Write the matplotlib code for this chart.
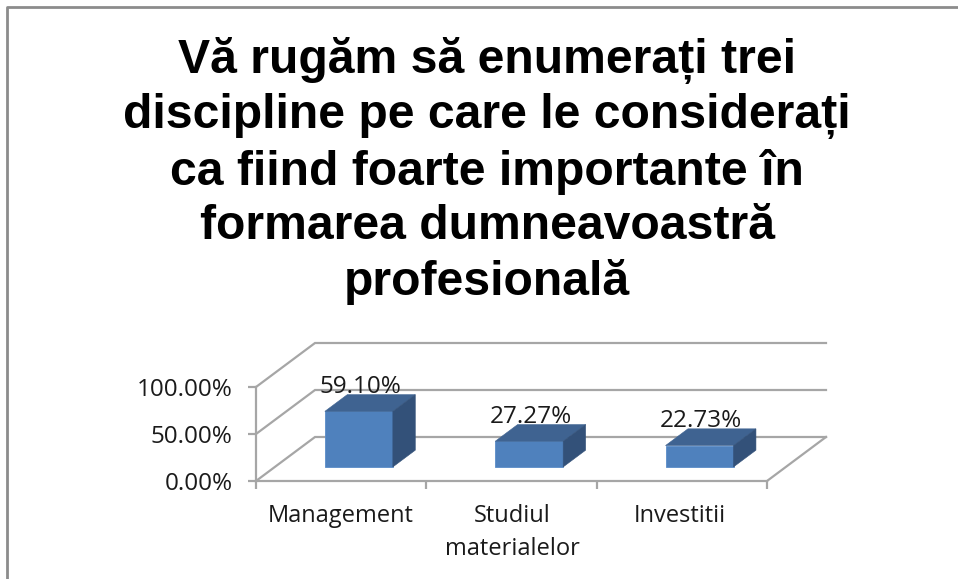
import matplotlib
matplotlib.use("Agg")
import matplotlib.pyplot as plt
from matplotlib.lines import Line2D
from matplotlib.patches import Polygon

categories = ["Management", "Studiul\nmaterialelor", "Investitii"]
values = [59.10, 27.27, 22.73]
value_labels = ["59.10%", "27.27%", "22.73%"]
y_ticks = [0, 50, 100]
y_tick_labels = ["0.00%", "50.00%", "100.00%"]
title = ("Vă rugăm să enumerați trei\ndiscipline pe care le considerați\n"
         "ca fiind foarte importante în\nformarea dumneavoastră\nprofesională")

W, H = 958, 579
fig = plt.figure(figsize=(W / 100, H / 100), dpi=100, facecolor="white")
L, R, B, T = 256, 767, 481, 387
ax = fig.add_axes([L / W, 1 - B / H, (R - L) / W, (B - T) / H])
ax.set_xlim(0, 3)
ax.set_ylim(0, 100)
ax.patch.set_visible(False)

GRID = "#a6a6a6"
DX = 59 / ((R - L) / 3)      # full depth in category units
DY = 44 / ((B - T) / 100)    # full depth in value units


def proj(x, y, d):
    return (x + d * DX, y + d * DY)


for s in ["top", "right"]:
    ax.spines[s].set_visible(False)
for s in ["left", "bottom"]:
    ax.spines[s].set_color(GRID)
    ax.spines[s].set_linewidth(1.6)

for v in y_ticks:
    p0, p1, p2 = proj(0, v, 0), proj(0, v, 1), proj(3, v, 1)
    ax.plot([p0[0], p1[0], p2[0]], [p0[1], p1[1], p2[1]], color=GRID, lw=1.6,
            clip_on=False, zorder=1, solid_joinstyle="miter")
p0, p1 = proj(3, 0, 0), proj(3, 0, 1)
ax.plot([p0[0], p1[0]], [p0[1], p1[1]], color=GRID, lw=1.6, clip_on=False, zorder=1)

FRONT, TOP, SIDE = "#4f81bd", "#3f6391", "#335179"
BAR_W = 68 / ((R - L) / 3)
D0, D1 = 0.32, 0.70
for i, (v, lab) in enumerate(zip(values, value_labels)):
    x0 = i + 0.5 - BAR_W / 2 - 0.007
    x1 = x0 + BAR_W
    ax.add_patch(Polygon([proj(x0, 0, D0), proj(x1, 0, D0), proj(x1, v, D0), proj(x0, v, D0)],
                         fc=FRONT, ec="#5a8cc8", lw=0.6, clip_on=False, zorder=3))
    ax.add_patch(Polygon([proj(x0, v, D0), proj(x1, v, D0), proj(x1, v, D1), proj(x0, v, D1)],
                         fc=TOP, ec=TOP, lw=0.4, clip_on=False, zorder=3))
    ax.add_patch(Polygon([proj(x1, 0, D0), proj(x1, 0, D1), proj(x1, v, D1), proj(x1, v, D0)],
                         fc=SIDE, ec=SIDE, lw=0.4, clip_on=False, zorder=3))
    ax.annotate(lab, xy=proj(i + 0.5, v, D0), xytext=(0, 9), textcoords="offset points",
                ha="center", va="bottom", fontsize=17.5, color="#1a1a1a",
                family="Open Sans", zorder=4)

ax.set_yticks(y_ticks, y_tick_labels, fontsize=17.5, family="Open Sans", color="#1a1a1a")
ax.set_xticks([0, 1, 2, 3], [""] * 4)
ax.tick_params(axis="both", color=GRID, width=1.6, length=6)
ax.tick_params(axis="y", pad=11)

label_px = [341, 512, 680]
for i, (c, px) in enumerate(zip(categories, label_px)):
    fig.text(px / W, 1 - 504 / H, c, ha="center", va="top", fontsize=17,
             family="Open Sans", color="#1a1a1a", linespacing=1.5)

fig.text(487 / W, 1 - 171 / H, title, ha="center", va="center", fontsize=34.7,
         fontweight="bold", family="Liberation Sans", color="black", linespacing=1.27)

fig.add_artist(Line2D([7 / W, 7 / W, 1], [0, 1 - 6.5 / H, 1 - 6.5 / H],
                      transform=fig.transFigure, color="#8c8c8c", lw=2))
fig.savefig("out.png", dpi=100, facecolor="white")
